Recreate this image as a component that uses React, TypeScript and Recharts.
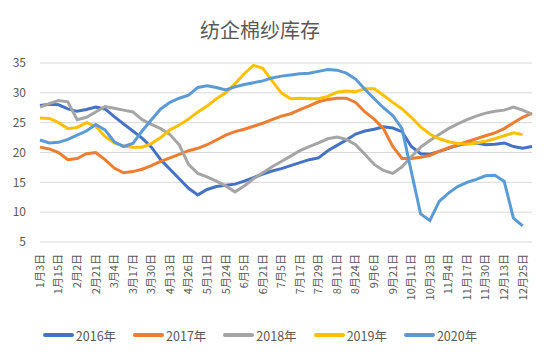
import { LineChart, Line, XAxis, YAxis, CartesianGrid, Legend } from "recharts";

const tickLabels = [
  "1月3日", "1月15日", "2月2日", "2月21日", "3月4日", "3月17日", "3月30日", "4月13日", "4月26日",
  "5月11日", "5月24日", "6月5日", "6月21日", "7月5日", "7月17日", "7月29日", "8月11日", "8月24日",
  "9月6日", "9月21日", "10月11日", "10月23日", "11月4日", "11月17日", "11月30日", "12月13日", "12月25日",
];

const v2016 = [
  27.9, 28.1, 28.0, 27.3, 26.9, 27.2, 27.6, 27.3, 26.0, 24.8, 23.6, 22.4, 20.9, 18.8, 17.2, 15.6, 14.0, 12.9,
  13.8, 14.3, 14.5, 14.7, 15.2, 15.8, 16.4, 16.9, 17.3, 17.8, 18.3, 18.8, 19.1, 20.3, 21.2, 22.1, 23.1, 23.6,
  23.9, 24.3, 24.1, 23.5, 21.0, 19.8, 19.7, 20.2, 20.7, 21.2, 21.5, 21.6, 21.3, 21.4, 21.6, 21.0, 20.7, 21.0,
];
const v2017 = [
  20.9, 20.6, 20.0, 18.8, 19.0, 19.8, 20.0, 18.8, 17.4, 16.6, 16.8, 17.2, 17.8, 18.5, 19.1, 19.7, 20.3, 20.7,
  21.3, 22.1, 22.9, 23.5, 23.9, 24.4, 24.9, 25.5, 26.1, 26.5, 27.2, 27.8, 28.5, 28.9, 29.1, 29.1, 28.4, 26.8,
  25.6, 24.0, 21.0, 19.0, 19.0, 19.2, 19.5, 20.2, 20.8, 21.3, 21.8, 22.3, 22.8, 23.3, 24.0, 25.0, 25.9, 26.6,
];
const v2018 = [
  27.6, 28.2, 28.7, 28.5, 25.5, 25.9, 26.8, 27.7, 27.4, 27.1, 26.8, 25.5, 24.7, 24.0, 23.0, 21.3, 18.0, 16.5,
  15.9, 15.2, 14.4, 13.4, 14.4, 15.6, 16.6, 17.6, 18.5, 19.4, 20.3, 21.0, 21.6, 22.3, 22.6, 22.2, 21.3, 19.7,
  18.0, 17.0, 16.5, 17.6, 19.3, 20.9, 22.0, 23.0, 24.0, 24.8, 25.5, 26.1, 26.6, 26.9, 27.1, 27.6, 27.1, 26.4,
];
const v2019 = [
  25.8, 25.7, 25.0, 24.0, 24.2, 25.0, 24.4, 22.7, 21.6, 21.1, 20.9, 20.9, 21.5, 22.5, 23.8, 24.6, 25.6, 26.8,
  27.8, 29.0, 30.0, 31.5, 33.2, 34.6, 34.1, 32.0, 30.0, 29.0, 29.1, 29.0, 29.0, 29.4, 30.1, 30.3, 30.2, 30.7,
  30.7, 29.6, 28.4, 27.3, 25.9, 24.3, 23.1, 22.3, 21.8, 21.5, 21.4, 21.6, 21.9, 22.3, 22.8, 23.3, 23.0,
];
const v2020 = [
  22.1, 21.6, 21.7, 22.2, 22.9, 23.6, 24.7, 23.8, 21.8, 21.0, 21.5, 23.6, 25.5, 27.3, 28.4, 29.1, 29.6, 30.9,
  31.2, 30.9, 30.5, 31.0, 31.4, 31.7, 32.0, 32.5, 32.8, 33.0, 33.2, 33.3, 33.6, 33.9, 33.8, 33.3, 32.3, 30.6,
  29.0, 27.5, 26.2, 24.0, 16.8, 9.7, 8.6, 11.8, 13.2, 14.3, 15.0, 15.5, 16.1, 16.2, 15.2, 9.0, 7.7,
];

const series = [
  { key: "y2016", name: "2016年", color: "#4472C4", values: v2016 },
  { key: "y2017", name: "2017年", color: "#ED7D31", values: v2017 },
  { key: "y2018", name: "2018年", color: "#A5A5A5", values: v2018 },
  { key: "y2019", name: "2019年", color: "#FFC000", values: v2019 },
  { key: "y2020", name: "2020年", color: "#5B9BD5", values: v2020 },
];

const data = v2016.map((_, i) => {
  const row: Record<string, number | undefined> = { idx: i };
  series.forEach((s) => (row[s.key] = s.values[i]));
  return row;
});

const xTicks = tickLabels.map((_, i) => i * 2);
const font = "'Noto Sans CJK SC', 'Noto Sans', sans-serif";
const textColor = "#595959";

function XTick({ x, y, payload }: any) {
  return (
    <text
      x={x} y={y + 10} dy="0.35em" transform={`rotate(-90, ${x}, ${y + 10})`}
      textAnchor="end" fontSize={11} fill={textColor} fontFamily={font}
    >
      {tickLabels[payload.value / 2]}
    </text>
  );
}

function LegendBox() {
  return (
    <div style={{ display: "flex", justifyContent: "center", gap: 17, height: 24, alignItems: "center" }}>
      {series.map((s) => (
        <div key={s.key} style={{ display: "flex", alignItems: "center" }}>
          <div style={{ width: 31, height: 4, background: s.color, borderRadius: 2 }} />
          <span style={{ fontSize: 12.5, color: textColor, fontFamily: font, marginLeft: 2 }}>{s.name}</span>
        </div>
      ))}
    </div>
  );
}

export default function App() {
  return (
    <div style={{ position: "absolute", left: 0, top: 0, width: 550, height: 359, background: "#fff" }}>
      <div
        style={{
          position: "absolute", left: 0, width: 520, top: 15, textAlign: "center",
          fontSize: 20, color: textColor, fontFamily: font,
        }}
      >
        纺企棉纱库存
      </div>
      <LineChart width={550} height={359} data={data} margin={{ top: 63, right: 18, left: 0, bottom: 12 }}>
        <CartesianGrid vertical={false} stroke="#D9D9D9" />
        <XAxis
          dataKey="idx" type="number" domain={[0, 53]} ticks={xTicks} interval={0}
          axisLine={false} tickLine={false} tickSize={0} height={81} tick={<XTick />}
        />
        <YAxis
          domain={[5, 35]} ticks={[5, 10, 15, 20, 25, 30, 35]} width={40}
          axisLine={false} tickLine={false} tickSize={0} tickMargin={14}
          tick={{ fontSize: 12, fill: textColor, fontFamily: font }}
        />
        <Legend verticalAlign="bottom" content={<LegendBox />} wrapperStyle={{ left: 0, width: 520 }} />
        {series.map((s) => (
          <Line
            key={s.key} type="linear" dataKey={s.key} name={s.name} stroke={s.color}
            strokeWidth={3} dot={false} isAnimationActive={false}
          />
        ))}
      </LineChart>
    </div>
  );
}
